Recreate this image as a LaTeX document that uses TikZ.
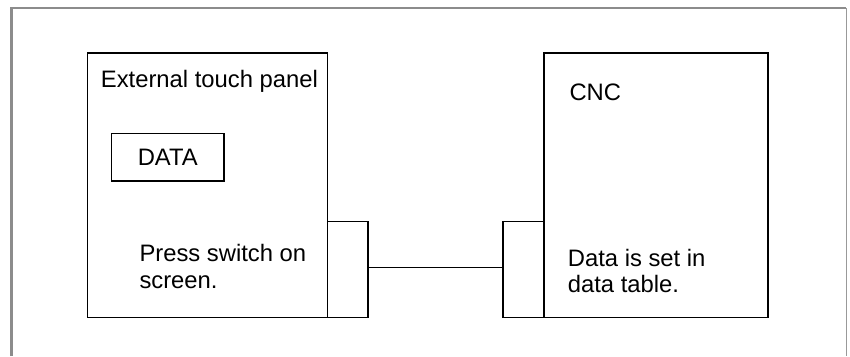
\documentclass[tikz,border=0pt]{standalone}
\usepackage{fontspec}
\setmainfont{Liberation Sans}
\begin{document}
\begin{tikzpicture}[x=1pt,y=-1pt,
  box/.style={draw=black,line width=1.6pt,inner sep=0pt,outer sep=0pt},
  lbl/.style={inner sep=0pt,anchor=base west,font=\fontsize{23.8}{27}\selectfont}]
\useasboundingbox (0,0) rectangle (850,356);
% outer frame (open at bottom)
\draw[draw=gray!90,line width=2.4pt] (11.5,356) -- (11.5,8) -- (846,8);
\draw[draw=gray!80,line width=1pt] (846,8) -- (846,356);
% boxes
\node[box,minimum width=240pt,minimum height=264.5pt] (panel) at (207.5,185.25) {};
\node[box,minimum width=112.5pt,minimum height=47.5pt,font=\fontsize{23.8}{27}\selectfont] (data) at (167.75,157.25) {DATA};
\node[box,minimum width=40.5pt,minimum height=96pt] (ltab) at (347.75,269.5) {};
\node[box,minimum width=41pt,minimum height=96pt] (rtab) at (523.5,269.5) {};
\node[box,minimum width=224pt,minimum height=264.5pt] (cnc) at (656,185.25) {};
% connector
\draw[line width=0.9pt] ([yshift=2pt]ltab.east) -- ([yshift=2pt]rtab.west);
% texts
\node[lbl] (etp) at (100.7,87.3) {External touch panel};
\node[lbl] (p1) at (139.3,261) {Press switch on};
\node[lbl] (p2) at (139.3,288) {screen.};
\node[lbl] (cnct) at (569.3,100.7) {CNC};
\node[lbl] (d1) at (567.7,266) {Data is set in};
\node[lbl] (d2) at (567.7,292.7) {data table.};
\end{tikzpicture}
\end{document}
